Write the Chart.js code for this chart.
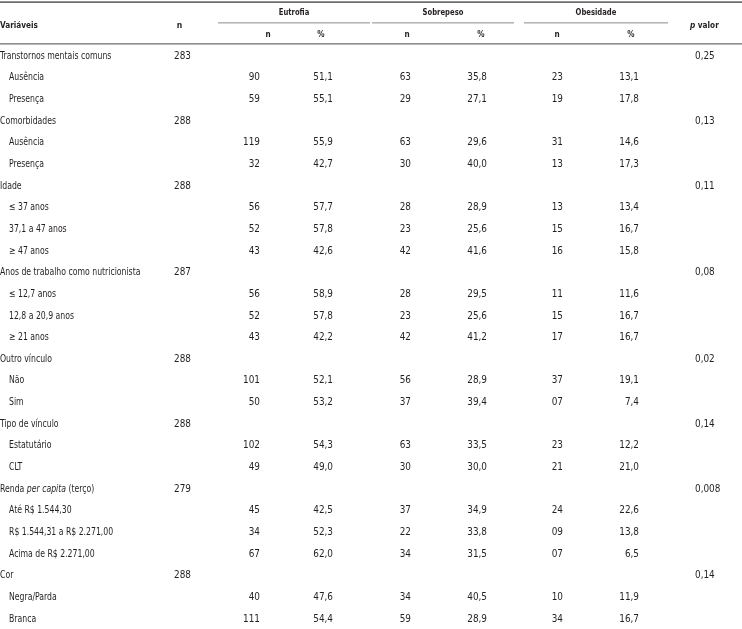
<!DOCTYPE html>
<html lang="pt-BR">
<head>
<meta charset="utf-8">
<title>Estado nutricional</title>
<script src="https://cdn.jsdelivr.net/npm/chart.js@4.4.1/dist/chart.umd.min.js"></script>
<style>
  html, body { margin: 0; padding: 0; background: #fff; }
  canvas { display: block; }
</style>
</head>
<body>
<canvas id="tabelaChart" width="742" height="629"></canvas>
<script>
/* ---------- dados da tabela ---------- */
const variaveis = [
    "Transtornos mentais comuns", "Ausência", "Presença",
    "Comorbidades", "Ausência", "Presença",
    "Idade", "≤ 37 anos", "37,1 a 47 anos", "≥ 47 anos",
    "Anos de trabalho como nutricionista", "≤ 12,7 anos", "12,8 a 20,9 anos", "≥ 21 anos",
    "Outro vínculo", "Não", "Sim",
    "Tipo de vínculo", "Estatutário", "CLT",
    "Renda *per capita* (terço)", "Até R$ 1.544,30", "R$ 1.544,31 a R$ 2.271,00", "Acima de R$ 2.271,00",
    "Cor", "Negra/Parda", "Branca",
];
const nivel = [0,1,1, 0,1,1, 0,1,1,1, 0,1,1,1, 0,1,1, 0,1,1, 0,1,1,1, 0,1,1];

const nTotal = [283,null,null, 288,null,null, 288,null,null,null, 287,null,null,null,
    288,null,null, 288,null,null, 279,null,null,null, 288,null,null];

const eutrofiaN = [null,90,59, null,119,32, null,56,52,43, null,56,52,43,
    null,101,50, null,102,49, null,45,34,67, null,40,111];
const eutrofiaPct = [null,51.1,55.1, null,55.9,42.7, null,57.7,57.8,42.6, null,58.9,57.8,42.2,
    null,52.1,53.2, null,54.3,49.0, null,42.5,52.3,62.0, null,47.6,54.4];

const sobrepesoN = [null,63,29, null,63,30, null,28,23,42, null,28,23,42,
    null,56,37, null,63,30, null,37,22,34, null,34,59];
const sobrepesoPct = [null,35.8,27.1, null,29.6,40.0, null,28.9,25.6,41.6, null,29.5,25.6,41.2,
    null,28.9,39.4, null,33.5,30.0, null,34.9,33.8,31.5, null,40.5,28.9];

const obesidadeN = [null,23,19, null,31,13, null,13,15,16, null,11,15,17,
    null,37,7, null,23,21, null,24,9,7, null,10,34];
const obesidadePct = [null,13.1,17.8, null,14.6,17.3, null,13.4,16.7,15.8, null,11.6,16.7,16.7,
    null,19.1,7.4, null,12.2,21.0, null,22.6,13.8,6.5, null,11.9,16.7];

const pValor = [0.25,null,null, 0.13,null,null, 0.11,null,null,null, 0.08,null,null,null,
    0.02,null,null, 0.14,null,null, 0.008,null,null,null, 0.14,null,null];

const grupos = ["Eutrofia", "Sobrepeso", "Obesidade"];

/* ---------- layout (posições em px do eixo x) ---------- */
const colX = { rotulo: 0, n: 174, eutN: 260, eutP: 333, sobN: 411, sobP: 487, obeN: 563, obeP: 639, p: 695 };
const subHeadX = [268, 321, 407, 481, 557, 631];
const grupoLinha = [[218, 370], [372, 514], [524, 668]];
const FONTE = '"Liberation Sans Narrow", "DejaVu Sans Condensed", "Roboto Condensed", sans-serif';
const COR_TEXTO = "#231f20";
const APERTO_TXT = 0.82;   // condensa as letras (fonte original é condensada)
const APERTO_NUM = 0.94;

const fmtN = v => String(v).padStart(2, "0");
const fmtPct = v => v.toFixed(1).replace(".", ",");
const fmtP = v => String(v).replace(".", ",");

function coluna(valores, x, fmt, align) {
    const pts = [];
    valores.forEach((v, i) => {
        if (v != null) pts.push({ x: x, y: i, txt: fmt(v) });
    });
    return { data: pts, align: align, pointRadius: 0, showLine: false };
}

const datasets = [
    coluna(variaveis, colX.rotulo, String, "label"),
    coluna(nTotal, colX.n, String, "left"),
    coluna(eutrofiaN, colX.eutN, fmtN, "right"),
    coluna(eutrofiaPct, colX.eutP, fmtPct, "right"),
    coluna(sobrepesoN, colX.sobN, fmtN, "right"),
    coluna(sobrepesoPct, colX.sobP, fmtPct, "right"),
    coluna(obesidadeN, colX.obeN, fmtN, "right"),
    coluna(obesidadePct, colX.obeP, fmtPct, "right"),
    coluna(pValor, colX.p, fmtP, "left"),
];

// texto condensado horizontalmente
function texto(ctx, txt, x, y, align, sx) {
    const w = ctx.measureText(txt).width * sx;
    let left = x;
    if (align === "right") left = x - w;
    else if (align === "center") left = x - w / 2;
    ctx.save();
    ctx.textAlign = "left";
    ctx.translate(left, y);
    ctx.scale(sx, 1);
    ctx.fillText(txt, 0, 0);
    ctx.restore();
    return w;
}

// desenha texto com trechos *itálicos*
function textoMisto(ctx, txt, x, y, size, sx) {
    txt.split("*").forEach((p, k) => {
        ctx.font = (k % 2 ? "italic " : "") + size + "px " + FONTE;
        x += texto(ctx, p, x, y, "left", sx);
    });
}

const tabela = {
    id: "tabela",
    afterDatasetsDraw(chart) {
        const { ctx, scales: { x, y } } = chart;
        ctx.save();
        ctx.fillStyle = COR_TEXTO;
        ctx.textBaseline = "middle";

        // linhas horizontais
        ctx.strokeStyle = "#6d6e71";
        ctx.lineWidth = 1.6;
        ctx.beginPath();
        ctx.moveTo(x.getPixelForValue(0), y.getPixelForValue(-2.49));
        ctx.lineTo(x.getPixelForValue(742), y.getPixelForValue(-2.49));
        ctx.stroke();
        ctx.lineWidth = 1.3;
        ctx.beginPath();
        ctx.moveTo(x.getPixelForValue(0), y.getPixelForValue(-0.56));
        ctx.lineTo(x.getPixelForValue(742), y.getPixelForValue(-0.56));
        ctx.stroke();
        ctx.strokeStyle = "#8a8b8d";
        ctx.lineWidth = 1;
        grupoLinha.forEach(([a, b]) => {
            ctx.beginPath();
            ctx.moveTo(x.getPixelForValue(a), y.getPixelForValue(-1.53));
            ctx.lineTo(x.getPixelForValue(b), y.getPixelForValue(-1.53));
            ctx.stroke();
        });

        // cabeçalho
        const hy = y.getPixelForValue(-1.43);
        ctx.font = "bold 9.5px " + FONTE;
        texto(ctx, "Variáveis", x.getPixelForValue(0), hy, "left", 0.86);
        texto(ctx, "n", x.getPixelForValue(179.5), hy, "center", 0.9);
        grupos.forEach((g, k) => {
            const [a, b] = grupoLinha[k];
            texto(ctx, g, x.getPixelForValue((a + b) / 2), y.getPixelForValue(-1.99), "center", 0.8);
        });
        subHeadX.forEach((sx, k) => {
            texto(ctx, k % 2 ? "%" : "n", x.getPixelForValue(sx), y.getPixelForValue(-0.98), "center", 0.85);
        });
        let px = x.getPixelForValue(690);
        ctx.font = "italic bold 9.5px " + FONTE;
        px += texto(ctx, "p ", px, hy, "left", 0.86);
        ctx.font = "bold 9.5px " + FONTE;
        texto(ctx, "valor", px, hy, "left", 0.86);

        // células
        chart.data.datasets.forEach((ds, d) => {
            const meta = chart.getDatasetMeta(d);
            meta.data.forEach((pt, j) => {
                const raw = ds.data[j];
                if (ds.align === "label") {
                    textoMisto(ctx, raw.txt, pt.x + (nivel[raw.y] ? 9 : 0), pt.y, 10.5, APERTO_TXT);
                } else {
                    ctx.font = "10.5px " + FONTE;
                    texto(ctx, raw.txt, pt.x, pt.y, ds.align, APERTO_NUM);
                }
            });
        });
        ctx.restore();
    },
};

const PASSO = 21.65;
const yMin = -56 / PASSO;

new Chart(document.getElementById("tabelaChart"), {
    type: "scatter",
    data: { datasets: datasets },
    options: {
        responsive: false,
        animation: false,
        events: [],
        layout: { padding: 0 },
        plugins: { legend: { display: false }, tooltip: { enabled: false } },
        scales: {
            x: { type: "linear", display: false, min: 0, max: 742 },
            y: { type: "linear", display: false, reverse: true, min: yMin, max: yMin + 629 / PASSO },
        },
    },
    plugins: [tabela],
});
</script>
</body>
</html>
